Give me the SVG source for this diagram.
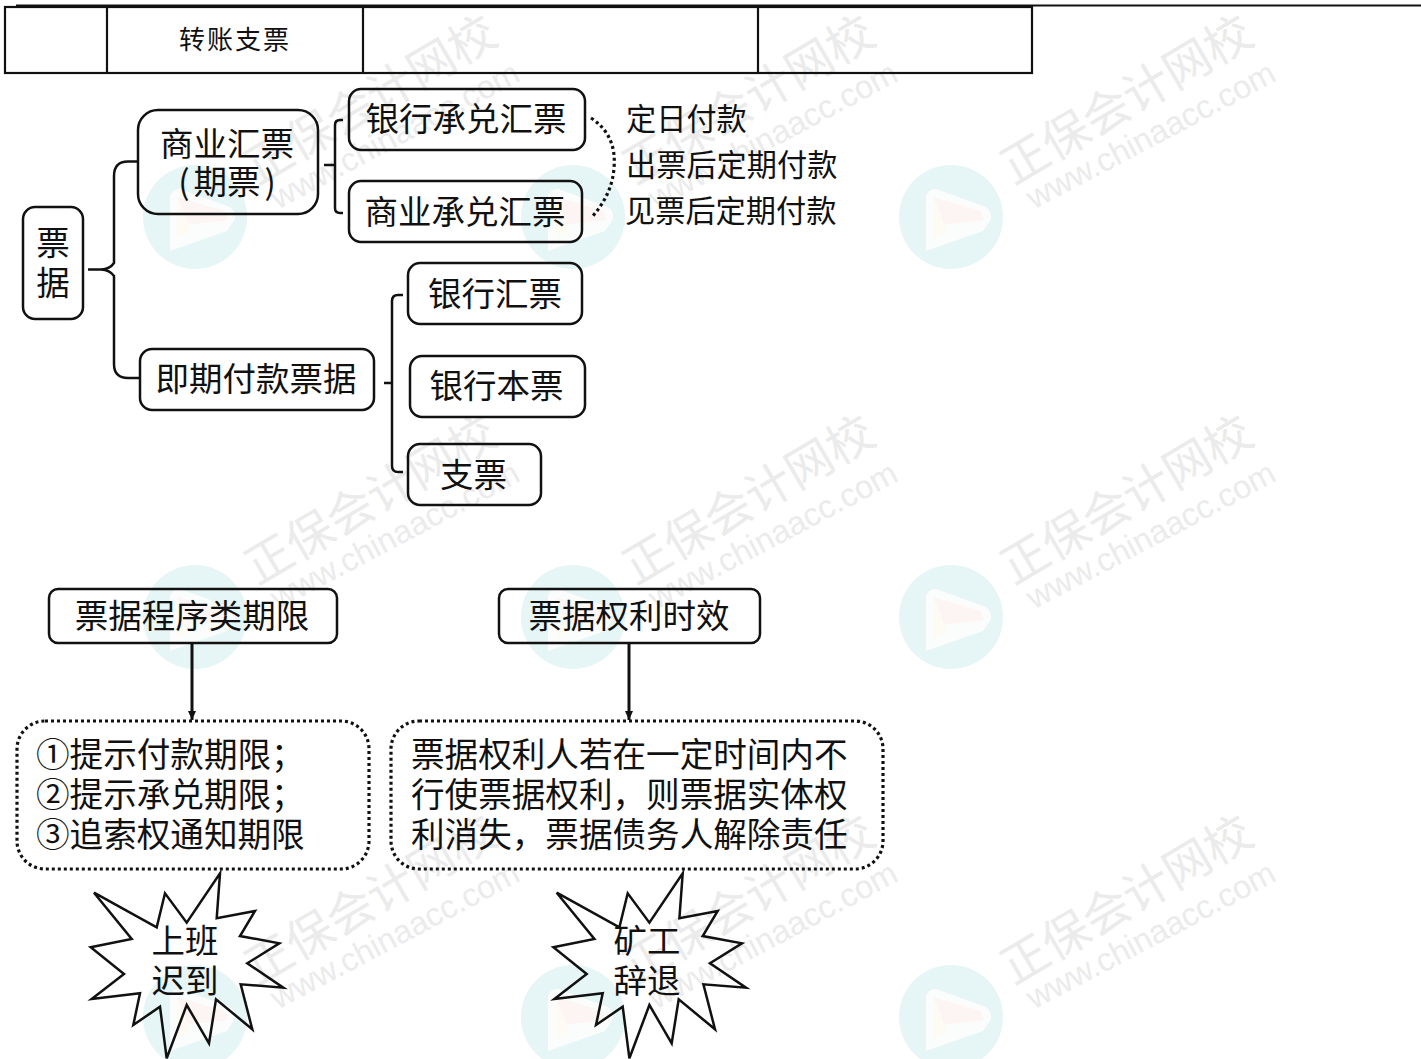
<svg xmlns="http://www.w3.org/2000/svg" xmlns:xlink="http://www.w3.org/1999/xlink" width="1421" height="1059" viewBox="0 0 1421 1059">
<style>
text{font-family:"Noto Sans CJK SC","Noto Sans",sans-serif;fill:#111;text-anchor:middle}
.n{fill:none;stroke:#111;stroke-width:2.5}
.c{fill:none;stroke:#111;stroke-width:2.5}
.a{fill:none;stroke:#111;stroke-width:3}
.d{fill:none;stroke:#111;stroke-width:3.2;stroke-dasharray:3 3}
.t{font-size:33.5px}
.l{font-size:33.6px;text-anchor:start}
.s{font-size:30.2px;text-anchor:start}
.w1{font-size:47px;fill:#ebebeb}
.w2{font-family:"Liberation Sans",Arial,sans-serif;font-size:32.500px;fill:#ebebeb}
</style>
<defs>
<marker id="ah" markerWidth="10" markerHeight="8" refX="9" refY="4" orient="auto" markerUnits="userSpaceOnUse"><path d="M0 0L9 4L0 8z" fill="#111"/></marker>
<g id="mark">
<circle cx="0" cy="0" r="52" fill="#e6f5f5"/>
<path d="M-25 34V-20Q-24 -28-15 -28L35 -10Q41 -6 40 2L32 14z" fill="#fbfdfc"/>
<path d="M-18 -20L30 -6L33 3L-10 8z" fill="#fcf5f4"/>
<path d="M-18 -20V22L-4 14L-10 -2z" fill="#fdfbf3"/>
<text class="w1" transform="translate(184 -103) rotate(-30.5)">正保会计网校</text>
<text class="w2" transform="translate(205 -72) rotate(-28)">www.chinaacc.com</text>
</g>
<polygon id="star" class="n" points="220,873.3 216.7,918.3 255,911 240,936 279.3,943.3 247.3,963.3 283.3,987.7 240.7,984.3 252.3,1029.3 216,999.3 209,1043.3 186.7,1005 166.7,1058.3 160,1006.7 133.3,1025 140,993.3 91.7,999 124,974 90.7,947.3 131.7,939 94,892.7 156.7,927.3 165,893.3 186.7,922.7"/>
</defs>
<rect width="1421" height="1059" fill="#fff"/>
<g id="watermarks">
<use href="#mark" x="195" y="217"/><use href="#mark" x="573" y="217"/><use href="#mark" x="951" y="217"/>
<use href="#mark" x="195" y="617"/><use href="#mark" x="573" y="617"/><use href="#mark" x="951" y="617"/>
<use href="#mark" x="195" y="1017"/><use href="#mark" x="573" y="1017"/><use href="#mark" x="951" y="1017"/>
</g>
<g id="table">
<path d="M16 5.500H1421" stroke="#111" stroke-width="2.200" fill="none"/>
<rect x="5" y="7" width="1027" height="66" fill="none" stroke="#111" stroke-width="2.200"/>
<path d="M107 7V73M363 7V73M758 7V73" stroke="#111" stroke-width="2.200" fill="none"/>
<text x="235" y="49" style="font-size:26px;letter-spacing:2px">转账支票</text>
</g>
<g id="connectors">
<path class="c" d="M88 269.500H101Q110 269 114 263V176Q114 161.500 128 161.500H138M101 269.500Q110 270 114 276V364Q114 378 128 378H140"/>
<path class="c" d="M324 165H335M343 120H340Q335 120 335 125V208Q335 213 340 213H343"/>
<path class="c" d="M384 383H392M403 295H398Q392 295 392 301V466Q392 472 398 472H403"/>
<path class="a" marker-end="url(#ah)" d="M192 643V720"/>
<path class="a" marker-end="url(#ah)" d="M629 643V720"/>
<path class="d" d="M591 118Q617 135 614 168Q612 195 591 218"/>
</g>
<g id="n-piaoju"><rect class="n" x="23" y="207" width="60" height="112" rx="12"/><text class="t" x="53" y="255">票</text><text class="t" x="53" y="295">据</text></g>
<g id="n-shangye"><rect class="n" x="138" y="110" width="180" height="104" rx="20"/><text class="t" x="227" y="156">商业汇票</text><text class="t" x="227" y="194">(<tspan dx="4">期票</tspan><tspan dx="4">)</tspan></text></g>
<g id="n-yinhangchengdui"><rect class="n" x="349" y="89" width="236" height="61" rx="12"/><text class="t" x="466" y="131">银行承兑汇票</text></g>
<g id="n-shangyechengdui"><rect class="n" x="349" y="181" width="233" height="61" rx="12"/><text class="t" x="465" y="224">商业承兑汇票</text></g>
<g id="n-yinhanghuipiao"><rect class="n" x="408" y="263" width="174" height="61" rx="12"/><text class="t" x="495" y="306">银行汇票</text></g>
<g id="n-jiqi"><rect class="n" x="140" y="349" width="234" height="61" rx="12"/><text class="t" x="256" y="391">即期付款票据</text></g>
<g id="n-benpiao"><rect class="n" x="410" y="356" width="175" height="61" rx="12"/><text class="t" x="496.500" y="398">银行本票</text></g>
<g id="n-zhipiao"><rect class="n" x="408" y="444" width="133" height="61" rx="12"/><text class="t" x="473.500" y="487">支票</text></g>
<g id="labels">
<text class="s" x="626" y="130">定日付款</text>
<text class="s" x="626" y="176">出票后定期付款</text>
<text class="s" x="625" y="222">见票后定期付款</text>
</g>
<g id="n-chengxu"><rect class="n" x="49" y="589" width="288" height="54" rx="9"/><text class="t" x="192" y="628">票据程序类期限</text></g>
<g id="n-shixiao"><rect class="n" x="499" y="589" width="261" height="54" rx="9"/><text class="t" x="629" y="628">票据权利时效</text></g>
<g id="n-list"><rect class="d" x="17" y="721" width="352" height="148" rx="28"/>
<text class="l" x="36" y="767">①提示付款期限；</text><text class="l" x="36" y="807">②提示承兑期限；</text><text class="l" x="36" y="847">③追索权通知期限</text></g>
<g id="n-desc"><rect class="d" x="391" y="721" width="492" height="148" rx="28"/>
<text class="l" x="411" y="767">票据权利人若在一定时间内不</text><text class="l" x="411" y="807">行使票据权利，则票据实体权</text><text class="l" x="411" y="847">利消失，票据债务人解除责任</text></g>
<g id="n-star1"><use href="#star"/><text class="t" x="185" y="953">上班</text><text class="t" x="185" y="993">迟到</text></g>
<g id="n-star2"><use href="#star" x="462.700"/><text class="t" x="647" y="953">矿工</text><text class="t" x="647" y="993">辞退</text></g>
</svg>
